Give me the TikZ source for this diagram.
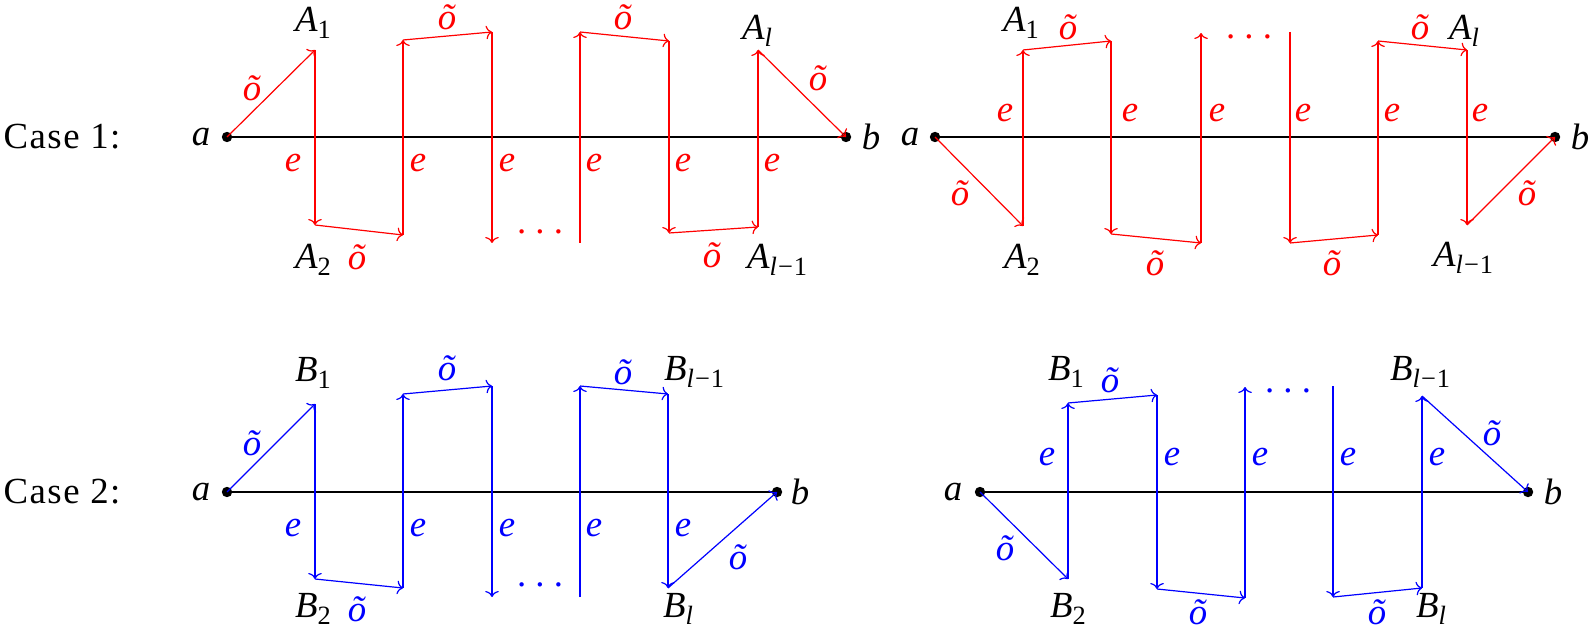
\documentclass[tikz,border=0pt]{standalone}
\usepackage{fontspec}
\setmainfont{Liberation Serif}
\usetikzlibrary{arrows.meta}
\newcommand\lsub[1]{\raisebox{-0.45ex}{\fontsize{6.6pt}{7pt}\selectfont #1}}
\newcommand\lm{\textit{l}\kern0.3pt−\kern0.2pt1}
\newcommand\ot{\textit{õ}}
\newcommand\lsep{.\hspace{2.3pt}.\hspace{2.3pt}.}
\definecolor{pr}{RGB}{255,0,0}
\definecolor{pb}{RGB}{0,0,255}
\tikzset{
  base/.style={line width=0.38pt,black},
  dotnode/.style={circle,fill=black,inner sep=0pt,minimum size=2.6pt},
  er/.style={pr,line width=0.3pt,-{To[length=1.5pt,width=3.4pt]}},
  eb/.style={pb,line width=0.3pt,-{To[length=1.5pt,width=3.4pt]}},
  lab/.style={inner sep=0pt,font=\fontsize{9.2pt}{10pt}\selectfont},
  labr/.style={lab,text=pr},
  labb/.style={lab,text=pb},
  casel/.style={inner sep=0pt,font=\fontsize{9.2pt}{10pt}\selectfont\addfontfeature{LetterSpace=4}}
}
\begin{document}
\begin{tikzpicture}[x=0.25pt,y=-0.25pt]
\path[use as bounding box] (0,0) rectangle (1590,630);

% ---------------- Case 1 left ----------------
\node[casel] (case1) at (62,137) {Case 1:};
\node[dotnode] (a1) at (227,137) {};
\node[dotnode] (b1) at (846,137) {};
\draw[base] (a1.center) -- (b1.center);
\node[lab] (la1) at (201,137) {\textit{a}};
\node[lab] (lb1) at (871,137) {\textit{b}};
\coordinate (p1) at (315,50);
\coordinate (p2) at (315,225);
\coordinate (p3) at (403,235);
\coordinate (p4) at (403,40);
\coordinate (p5) at (492,32);
\coordinate (p6) at (492,243);
\coordinate (q1) at (580,243);
\coordinate (q2) at (580,32);
\coordinate (q3) at (669,41);
\coordinate (q4) at (669,233);
\coordinate (q5) at (758,227);
\coordinate (q6) at (758,50);
\draw[er] (a1.center) -- (p1);
\draw[er] (p1) -- (p2);
\draw[er] (p2) -- (p3);
\draw[er] (p3) -- (p4);
\draw[er] (p4) -- (p5);
\draw[er] (p5) -- (p6);
\draw[er] (q1) -- (q2);
\draw[er] (q2) -- (q3);
\draw[er] (q3) -- (q4);
\draw[er] (q4) -- (q5);
\draw[er] (q5) -- (q6);
\draw[er] (q6) -- (b1.center);
\node[lab] (tA1) at (313,23) {\textit{A}\lsub{1}};
\node[lab] (tA2) at (313,260) {\textit{A}\lsub{2}};
\node[lab] (tAl) at (757,31) {\textit{A}\lsub{\textit{l}}};
\node[lab] (tAlm) at (777,260) {\textit{A}\lsub{\lm}};
\node[labr] (o11) at (252,88) {\ot};
\node[labr] (o12) at (447,17) {\ot};
\node[labr] (o13) at (357,257) {\ot};
\node[labr] (o14) at (623,17) {\ot};
\node[labr] (o15) at (712,255) {\ot};
\node[labr] (o16) at (818,78) {\ot};
\node[labr] (e11) at (293,163) {\textit{e}};
\node[labr] (e12) at (418,163) {\textit{e}};
\node[labr] (e13) at (507,163) {\textit{e}};
\node[labr] (e14) at (594,163) {\textit{e}};
\node[labr] (e15) at (683,163) {\textit{e}};
\node[labr] (e16) at (772,163) {\textit{e}};
\node[labr] (d1) at (540,232) {\lsep};

% ---------------- Case 1 right ----------------
\node[dotnode] (a2) at (935,137) {};
\node[dotnode] (b2) at (1555,137) {};
\draw[base] (a2.center) -- (b2.center);
\node[lab] (la2) at (910,137) {\textit{a}};
\node[lab] (lb2) at (1580,137) {\textit{b}};
\coordinate (r1) at (1023,226);
\coordinate (r2) at (1023,50);
\coordinate (r3) at (1111,41);
\coordinate (r4) at (1111,234);
\coordinate (r5) at (1201,243);
\coordinate (r6) at (1201,33);
\coordinate (s1) at (1290,32);
\coordinate (s2) at (1290,243);
\coordinate (s3) at (1378,235);
\coordinate (s4) at (1378,41);
\coordinate (s5) at (1467,50);
\coordinate (s6) at (1467,225);
\draw[er] (a2.center) -- (r1);
\draw[er] (r1) -- (r2);
\draw[er] (r2) -- (r3);
\draw[er] (r3) -- (r4);
\draw[er] (r4) -- (r5);
\draw[er] (r5) -- (r6);
\draw[er] (s1) -- (s2);
\draw[er] (s2) -- (s3);
\draw[er] (s3) -- (s4);
\draw[er] (s4) -- (s5);
\draw[er] (s5) -- (s6);
\draw[er] (s6) -- (b2.center);
\node[lab] (uA1) at (1021,23) {\textit{A}\lsub{1}};
\node[lab] (uA2) at (1022,260) {\textit{A}\lsub{2}};
\node[lab] (uAl) at (1464,31) {\textit{A}\lsub{\textit{l}}};
\node[lab] (uAlm) at (1463,258) {\textit{A}\lsub{\lm}};
\node[labr] (o21) at (960,193) {\ot};
\node[labr] (o22) at (1068,27) {\ot};
\node[labr] (o23) at (1155,263) {\ot};
\node[labr] (o24) at (1332,263) {\ot};
\node[labr] (o25) at (1420,27) {\ot};
\node[labr] (o26) at (1527,193) {\ot};
\node[labr] (e21) at (1005,113) {\textit{e}};
\node[labr] (e22) at (1130,113) {\textit{e}};
\node[labr] (e23) at (1217,113) {\textit{e}};
\node[labr] (e24) at (1303,113) {\textit{e}};
\node[labr] (e25) at (1392,113) {\textit{e}};
\node[labr] (e26) at (1480,113) {\textit{e}};
\node[labr] (d2) at (1249,37) {\lsep};

% ---------------- Case 2 left ----------------
\node[casel] (case2) at (62,492) {Case 2:};
\node[dotnode] (a3) at (227,492) {};
\node[dotnode] (b3) at (777,492) {};
\draw[base] (a3.center) -- (b3.center);
\node[lab] (la3) at (201,492) {\textit{a}};
\node[lab] (lb3) at (800,492) {\textit{b}};
\coordinate (t1) at (315,404);
\coordinate (t2) at (315,579);
\coordinate (t3) at (403,588);
\coordinate (t4) at (403,394);
\coordinate (t5) at (492,386);
\coordinate (t6) at (492,597);
\coordinate (v1) at (580,597);
\coordinate (v2) at (580,386);
\coordinate (v3) at (668,394);
\coordinate (v4) at (668,588);
\draw[eb] (a3.center) -- (t1);
\draw[eb] (t1) -- (t2);
\draw[eb] (t2) -- (t3);
\draw[eb] (t3) -- (t4);
\draw[eb] (t4) -- (t5);
\draw[eb] (t5) -- (t6);
\draw[eb] (v1) -- (v2);
\draw[eb] (v2) -- (v3);
\draw[eb] (v3) -- (v4);
\draw[eb] (v4) -- (b3.center);
\node[lab] (vB1) at (313,373) {\textit{B}\lsub{1}};
\node[lab] (vB2) at (313,609) {\textit{B}\lsub{2}};
\node[lab] (vBlm) at (694,372) {\textit{B}\lsub{\lm}};
\node[lab] (vBl) at (678,609) {\textit{B}\lsub{\textit{l}}};
\node[labb] (o31) at (252,443) {\ot};
\node[labb] (o32) at (447,368) {\ot};
\node[labb] (o33) at (357,609) {\ot};
\node[labb] (o34) at (623,372) {\ot};
\node[labb] (o35) at (738,557) {\ot};
\node[labb] (e31) at (293,528) {\textit{e}};
\node[labb] (e32) at (418,528) {\textit{e}};
\node[labb] (e33) at (507,528) {\textit{e}};
\node[labb] (e34) at (594,528) {\textit{e}};
\node[labb] (e35) at (683,528) {\textit{e}};
\node[labb] (d3) at (540,585) {\lsep};

% ---------------- Case 2 right ----------------
\node[dotnode] (a4) at (980,492) {};
\node[dotnode] (b4) at (1528,492) {};
\draw[base] (a4.center) -- (b4.center);
\node[lab] (la4) at (953,492) {\textit{a}};
\node[lab] (lb4) at (1553,492) {\textit{b}};
\coordinate (w1) at (1068,579);
\coordinate (w2) at (1068,403);
\coordinate (w3) at (1157,395);
\coordinate (w4) at (1157,589);
\coordinate (w5) at (1245,598);
\coordinate (w6) at (1245,387);
\coordinate (z1) at (1333,386);
\coordinate (z2) at (1333,597);
\coordinate (z3) at (1422,588);
\coordinate (z4) at (1422,396);
\draw[eb] (a4.center) -- (w1);
\draw[eb] (w1) -- (w2);
\draw[eb] (w2) -- (w3);
\draw[eb] (w3) -- (w4);
\draw[eb] (w4) -- (w5);
\draw[eb] (w5) -- (w6);
\draw[eb] (z1) -- (z2);
\draw[eb] (z2) -- (z3);
\draw[eb] (z3) -- (z4);
\draw[eb] (z4) -- (b4.center);
\node[lab] (xB1) at (1066,372) {\textit{B}\lsub{1}};
\node[lab] (xB2) at (1068,609) {\textit{B}\lsub{2}};
\node[lab] (xBl) at (1431,609) {\textit{B}\lsub{\textit{l}}};
\node[lab] (xBlm) at (1420,372) {\textit{B}\lsub{\lm}};
\node[labb] (o41) at (1005,548) {\ot};
\node[labb] (o42) at (1110,380) {\ot};
\node[labb] (o43) at (1198,612) {\ot};
\node[labb] (o44) at (1377,612) {\ot};
\node[labb] (o45) at (1492,433) {\ot};
\node[labb] (e41) at (1047,457) {\textit{e}};
\node[labb] (e42) at (1172,457) {\textit{e}};
\node[labb] (e43) at (1260,457) {\textit{e}};
\node[labb] (e44) at (1348,457) {\textit{e}};
\node[labb] (e45) at (1437,457) {\textit{e}};
\node[labb] (d4) at (1288,391) {\lsep};
\end{tikzpicture}
\end{document}
